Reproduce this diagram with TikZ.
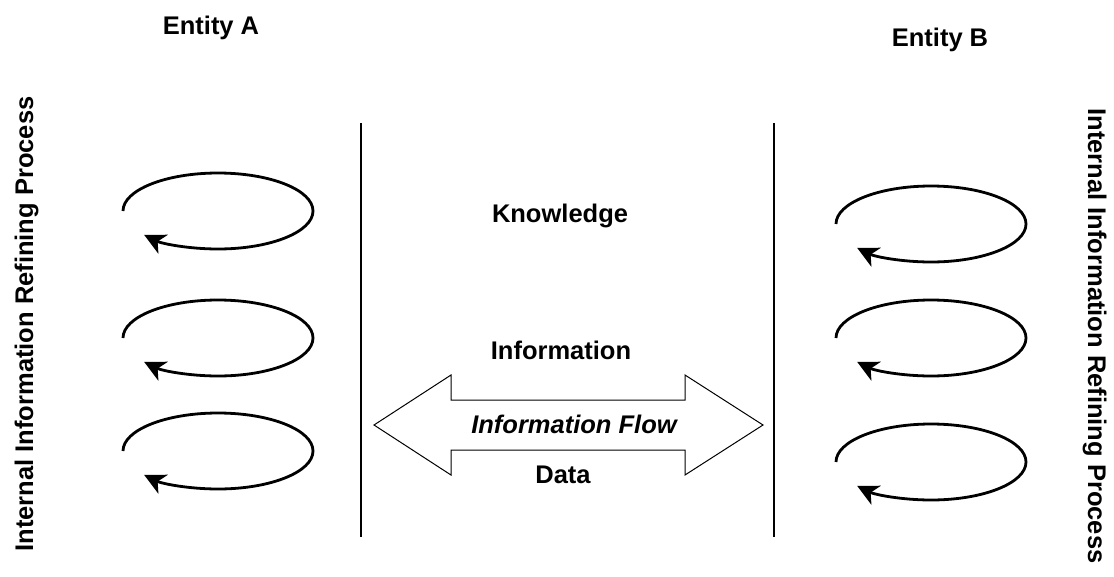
\documentclass[tikz,border=0pt]{standalone}
\usepackage{fontspec}
\setmainfont{Liberation Sans}
\usetikzlibrary{arrows.meta}
\begin{document}
\begin{tikzpicture}[x=1pt,y=1pt,
  lbl/.style={font=\fontsize{25.5}{30}\selectfont\bfseries, anchor=base, inner sep=0pt},
  cyc/.style={line width=2.8pt, -{Stealth[length=21pt,width=21pt,inset=6pt]}},
  divider/.style={line width=1.6pt},
  flowarrow/.style={line width=1pt, line join=miter, fill=white}]
\useasboundingbox (0,0) rectangle (1114,-576);

% entity titles
\node[lbl] (entA) at (211,-34) {Entity A};
\node[lbl] (entB) at (940,-46) {Entity B};

% side captions
\node[lbl, rotate=90] (procA) at (33,-324) {Internal Information Refining Process};
\node[lbl, rotate=-90] (procB) at (1088,-336) {Internal Information Refining Process};

% dividers
\coordinate (lt) at (361,-123); \coordinate (lb) at (361,-537);
\coordinate (rt) at (774,-123); \coordinate (rb) at (774,-537);
\draw[divider] (lt) -- (lb);
\draw[divider] (rt) -- (rb);

% loops entity A
\foreach \cy in {211,338,451}{
  \draw[cyc] (123,-\cy) arc[start angle=180, end angle=-141, x radius=95, y radius=38];
}
% loops entity B
\foreach \cy in {224,338,462}{
  \draw[cyc] (836,-\cy) arc[start angle=180, end angle=-141, x radius=95, y radius=38];
}

% double arrow
\draw[flowarrow] (374,-425) -- (451,-375) -- (451,-400) -- (685,-400) -- (685,-375)
  -- (763,-425) -- (685,-475) -- (685,-450) -- (451,-450) -- (451,-475) -- cycle;

% middle labels
\node[lbl] (know) at (560,-222) {Knowledge};
\node[lbl] (info) at (561,-359) {Information};
\node[lbl, font=\fontsize{25.5}{30}\selectfont\bfseries\itshape] (flow) at (574,-433) {Information Flow};
\node[lbl] (data) at (563,-483) {Data};
\end{tikzpicture}
\end{document}
